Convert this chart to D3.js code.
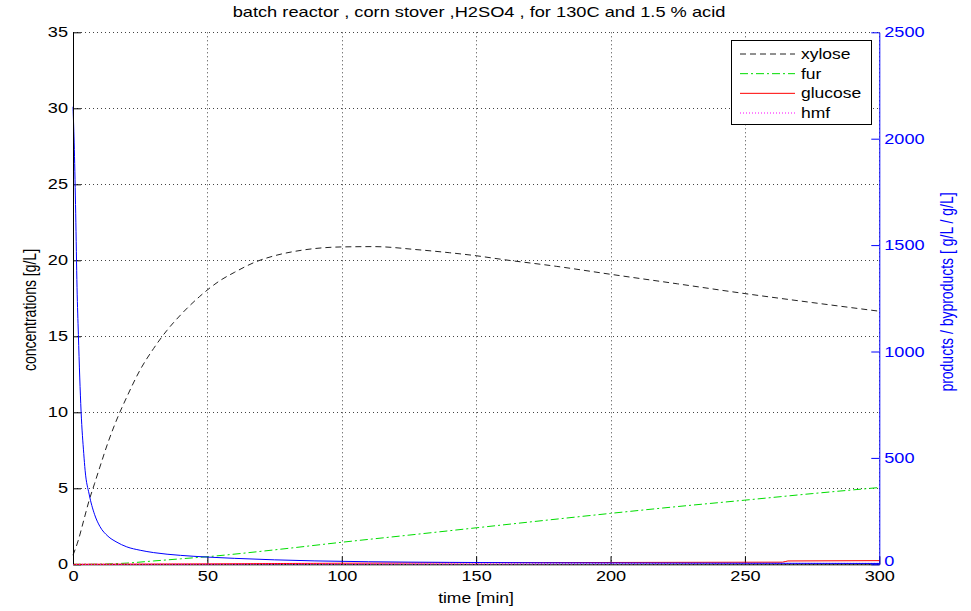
<!DOCTYPE html>
<html><head><meta charset="utf-8">
<script src="https://cdn.jsdelivr.net/npm/d3@7"></script>
<style>body{margin:0;background:#fff} text{font-family:"Liberation Sans",Arial,sans-serif}</style>
</head><body><svg id="c" width="971" height="611"></svg>
<script>
// ---- data ----
const titleText = "batch reactor , corn stover ,H2SO4 , for 130C and 1.5 % acid";
const xLabel = "time [min]";
const yLeftLabel = "concentrations [g/L]";
const yRightLabel = "products / byproducts [ g/L / g/L]";
const xTicks = [0, 50, 100, 150, 200, 250, 300];
const yLeftTicks = [0, 5, 10, 15, 20, 25, 30, 35];
const yRightTicks = [0, 500, 1000, 1500, 2000, 2500];
const seriesNames = ["xylose", "fur", "glucose", "hmf"];

const xyloseT = [0, 2, 4, 6, 8, 10, 13, 16, 20, 25, 30, 35, 40, 47, 55, 60, 68, 75, 85, 100, 112, 128, 140, 150, 160, 180, 200, 225, 250, 275, 300];
const xyloseV = [0.6, 1.6, 2.9, 4.2, 5.3, 6.4, 8.0, 9.4, 11.0, 12.8, 14.2, 15.4, 16.4, 17.6, 18.7, 19.2, 19.9, 20.3, 20.66, 20.88, 20.9, 20.7, 20.5, 20.3, 20.05, 19.6, 19.08, 18.45, 17.81, 17.22, 16.65];

const furT = [0, 10, 20, 30, 40, 50, 75, 100, 125, 150, 175, 200, 225, 250, 275, 300];
const furV = [0, 0.01, 0.08, 0.22, 0.36, 0.5, 0.95, 1.45, 1.92, 2.4, 2.88, 3.35, 3.8, 4.22, 4.65, 5.05];

const glucoseT = [0, 50, 100, 150, 200, 264, 266, 300];
const glucoseV = [0, 0.03, 0.07, 0.1, 0.12, 0.14, 0.22, 0.24];

const hmfT = [0, 50, 100, 150, 200, 250, 300];
const hmfV = [0, 0.01, 0.02, 0.03, 0.04, 0.05, 0.06];

const ratioT = [0, 0.5, 1, 1.5, 2, 2.5, 3, 4, 4.5, 6, 8, 10, 13, 16, 20, 25, 30, 40, 50, 60, 75, 90, 110, 140, 175, 210, 250, 300];
const ratioV = [2150, 1950, 1650, 1300, 1080, 880, 720, 520, 442, 330, 235, 178, 132, 106, 82, 66, 55, 42, 34, 28, 21, 16, 12, 9, 7, 6, 5, 4];

// ---- layout ----
const L = 73, R = 879.3, T = 32.3, B = 564.3;
const SX = 1.25; // horizontal glyph stretch of the reference
const svg = d3.select("#c");
const x = d3.scaleLinear().domain([0, 300]).range([L, R]);
const yL = d3.scaleLinear().domain([0, 35]).range([B, T]);
const yR = d3.scaleLinear().domain([0, 2500]).range([B, T]);
const blue = "#0000ff";

// grid
const grid = svg.append("g").attr("stroke", "#444").attr("stroke-width", 1).attr("stroke-dasharray", "1,3");
grid.selectAll(".gx").data(xTicks).join("line")
  .attr("x1", d => Math.round(x(d)) + 0.5).attr("x2", d => Math.round(x(d)) + 0.5)
  .attr("y1", T).attr("y2", B);
grid.selectAll(".gy").data(yLeftTicks).join("line")
  .attr("y1", d => Math.round(yL(d)) + 0.5).attr("y2", d => Math.round(yL(d)) + 0.5)
  .attr("x1", L).attr("x2", R);

function stretchTexts(g) {
  g.selectAll("text").each(function () {
    const t = d3.select(this);
    const xv = +t.attr("x") || 0;
    t.attr("x", xv / SX).attr("transform", `scale(${SX},1)`);
  });
}

// axes
const gx = svg.append("g").attr("transform", `translate(0,${B})`)
  .call(d3.axisBottom(x).tickValues(xTicks).tickSizeInner(-8).tickSizeOuter(0).tickPadding(6).tickFormat(d3.format("d")));
gx.select(".domain").attr("stroke", "#000");
gx.selectAll("text").attr("font-size", 14.5).attr("fill", "#000").attr("font-family", null);
stretchTexts(gx);

const gl = svg.append("g").attr("transform", `translate(${L},0)`)
  .call(d3.axisLeft(yL).tickValues(yLeftTicks).tickSizeInner(-8).tickSizeOuter(0).tickPadding(5).tickFormat(d3.format("d")));
gl.selectAll("text").attr("font-size", 14.5).attr("fill", "#000").attr("font-family", null);
stretchTexts(gl);

const gr = svg.append("g").attr("transform", `translate(${R},0)`)
  .call(d3.axisRight(yR).tickValues(yRightTicks).tickSizeInner(-8).tickSizeOuter(0).tickPadding(5).tickFormat(d3.format("d")));
gr.select(".domain").attr("stroke", blue);
gr.selectAll(".tick line").attr("stroke", blue);
gr.selectAll("text").attr("font-size", 14.5).attr("fill", blue).attr("font-family", null);
stretchTexts(gr);
// the right "0" sits slightly above the corner, as in the reference
gr.selectAll(".tick").filter(d => d === 0).select("text").attr("dy", "0.05em");

// lines
function zip(ts, vs) { return ts.map((t, i) => [t, vs[i]]); }
const lineL = d3.line().x(d => x(d[0])).y(d => yL(d[1])).curve(d3.curveMonotoneX);
const lineR = d3.line().x(d => x(d[0])).y(d => yR(d[1])).curve(d3.curveMonotoneX);
const styles = {
  xylose: {c: "#222", dash: "6,4"},
  fur: {c: "#00dd00", dash: "8,3,2,3"},
  glucose: {c: "#ff0000", dash: null},
  hmf: {c: "#ff00ff", dash: "1,2"}
};
const seriesData = {xylose: zip(xyloseT, xyloseV), fur: zip(furT, furV), glucose: zip(glucoseT, glucoseV), hmf: zip(hmfT, hmfV)};
seriesNames.forEach(n => {
  svg.append("path").datum(seriesData[n]).attr("d", lineL).attr("fill", "none")
    .attr("stroke", styles[n].c).attr("stroke-width", 1).attr("stroke-dasharray", styles[n].dash);
});
svg.append("path").datum(zip(ratioT, ratioV)).attr("d", lineR).attr("fill", "none")
  .attr("stroke", blue).attr("stroke-width", 1);

// left axis line on top
svg.append("line").attr("x1", L + 0.5).attr("x2", L + 0.5).attr("y1", T).attr("y2", B).attr("stroke", "#000");

// labels
function stretchedText(px, py, txt, opts) {
  const t = svg.append("text").attr("font-size", opts.size || 14).attr("fill", opts.fill || "#000")
    .attr("text-anchor", "middle").text(txt);
  if (opts.rotate) t.attr("transform", `translate(${px},${py}) rotate(-90) scale(1,${SX})`);
  else t.attr("transform", `translate(${px},${py}) scale(${SX},1)`);
  return t;
}
stretchedText(479, 17, titleText, {size: 14.6});
stretchedText(476, 603, xLabel, {size: 14});
stretchedText(36, 310, yLeftLabel, {size: 14, rotate: true});
stretchedText(953, 292, yRightLabel, {size: 14, rotate: true, fill: blue});

// legend
const lg = svg.append("g");
lg.append("rect").attr("x", 731.5).attr("y", 40.5).attr("width", 140).attr("height", 84)
  .attr("fill", "#fff").attr("stroke", "#000");
const ly = d3.scalePoint().domain(seriesNames).range([54, 113]);
seriesNames.forEach(n => {
  lg.append("line").attr("x1", 740).attr("x2", 795).attr("y1", ly(n)).attr("y2", ly(n))
    .attr("stroke", styles[n].c).attr("stroke-dasharray", styles[n].dash);
  lg.append("text").attr("font-size", 14).attr("transform", `translate(801,${ly(n) + 5}) scale(${SX},1)`).text(n);
});
</script></body></html>
